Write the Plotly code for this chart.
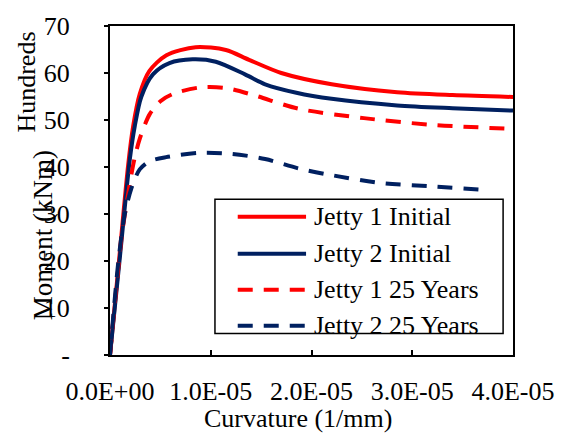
import plotly.graph_objects as go

# Curvature (1/mm) and moment (hundreds of kNm)
j1_init_x = [0, 0.9e-6, 1.8e-6, 2.3e-6, 2.95e-6, 3.9e-6, 5.6e-6, 8.5e-6, 11.5e-6, 13.8e-6, 17.0e-6, 22.0e-6, 28.5e-6, 34.0e-6, 40.0e-6]
j1_init_y = [0, 20.2, 40.4, 48.7, 55.5, 60.4, 63.8, 65.5, 64.9, 62.8, 60.0, 57.6, 55.9, 55.3, 54.9]

j2_init_x = [0, 1.0e-6, 1.97e-6, 2.46e-6, 3.1e-6, 4.26e-6, 5.9e-6, 8.2e-6, 10.5e-6, 13.4e-6, 15.4e-6, 18.5e-6, 22.0e-6, 28.5e-6, 34.0e-6, 40.0e-6]
j2_init_y = [0, 21.2, 41.7, 48.7, 54.9, 59.7, 62.1, 62.9, 62.4, 59.7, 57.6, 55.8, 54.5, 53.1, 52.5, 52.0]

j1_25_x = [0, 1.15e-6, 1.97e-6, 2.4e-6, 2.95e-6, 3.93e-6, 5.0e-6, 6.2e-6, 8.85e-6, 11.5e-6, 14.4e-6, 18.7e-6, 25.2e-6, 31.8e-6, 40.0e-6]
j1_25_y = [0, 25.0, 36.5, 41.5, 46.0, 51.2, 54.0, 55.5, 56.9, 56.8, 55.2, 52.4, 50.4, 49.0, 48.1]

j2_25_x = [0, 0.82e-6, 1.47e-6, 2.13e-6, 2.95e-6, 3.9e-6, 5.57e-6, 8.85e-6, 12.1e-6, 15.4e-6, 18.7e-6, 21.9e-6, 26.9e-6, 31.8e-6, 36.7e-6]
j2_25_y = [0, 19.7, 30.0, 35.5, 39.5, 41.2, 42.1, 43.0, 42.8, 41.7, 39.7, 38.3, 36.6, 35.9, 35.2]

x_tickvals = [0, 1e-5, 2e-5, 3e-5, 4e-5]
x_ticktext = ["0.0E+00", "1.0E-05", "2.0E-05", "3.0E-05", "4.0E-05"]
y_tickvals = [0, 10, 20, 30, 40, 50, 60, 70]
y_ticktext = ["-", "10", "20", "30", "40", "50", "60", "70"]

RED = "#FF0000"
NAVY = "#002060"
FONT = "Liberation Serif"
DASH = "15px,11px"

series = [
    ("Jetty 1 Initial", j1_init_x, j1_init_y, RED, "solid"),
    ("Jetty 2 Initial", j2_init_x, j2_init_y, NAVY, "solid"),
    ("Jetty 1 25 Years", j1_25_x, j1_25_y, RED, DASH),
    ("Jetty 2 25 Years", j2_25_x, j2_25_y, NAVY, DASH),
]

W, H = 567, 434
ML, MR, MT, MB = 110, 50, 17, 79
PW, PH = W - ML - MR, H - MT - MB


def px(x):
    return (x - ML) / PW


def py(y):
    return (H - MB - y) / PH


fig = go.Figure()
for name, xs, ys, col, dash in series:
    fig.add_trace(go.Scatter(x=xs, y=ys, name=name, mode="lines", showlegend=False,
                             line=dict(color=col, width=4, dash=dash, shape="spline", smoothing=0.8)))

# Legend drawn as a boxed key (Excel style)
shapes = [dict(type="rect", xref="paper", yref="paper", x0=px(216), x1=px(507), y0=py(333), y1=py(195),
               line=dict(color="black", width=1.5), fillcolor="white", layer="above")]
annotations = []
row_y = [213, 251, 288, 325]
for (name, xs, ys, col, dash), ry in zip(series, row_y):
    shapes.append(dict(type="line", xref="paper", yref="paper", x0=px(239), x1=px(308), y0=py(ry), y1=py(ry),
                       line=dict(color=col, width=4, dash=dash), layer="above"))
    annotations.append(dict(text=name, xref="paper", yref="paper", x=px(314), y=py(ry), xanchor="left",
                            yanchor="middle", showarrow=False, font=dict(family=FONT, size=26, color="black")))

annotations += [
    dict(text="Curvature (1/mm)", xref="paper", yref="paper", x=0.467, y=0,
         yshift=-63, xanchor="center", yanchor="middle", showarrow=False,
         font=dict(family=FONT, size=26)),
    dict(text="Moment (kNm)", xref="paper", yref="paper", x=0, y=0.364,
         xshift=-67, xanchor="center", yanchor="middle", textangle=-90, showarrow=False,
         font=dict(family=FONT, size=27)),
    dict(text="Hundreds", xref="paper", yref="paper", x=0, y=0.828,
         xshift=-83, xanchor="center", yanchor="middle", textangle=-90, showarrow=False,
         font=dict(family=FONT, size=26)),
]

fig.update_layout(
    width=W, height=H,
    margin=dict(l=ML, r=MR, t=MT, b=MB),
    paper_bgcolor="white", plot_bgcolor="white",
    font=dict(family=FONT, size=26, color="black"),
    showlegend=False,
    xaxis=dict(range=[0, 4e-5], tickvals=x_tickvals, ticktext=x_ticktext,
               showline=True, linecolor="black", linewidth=2, mirror=True,
               ticks="inside", ticklen=5, tickwidth=1.5, tickcolor="black",
               showgrid=False, zeroline=False, ticklabelstandoff=12),
    yaxis=dict(range=[0, 70], tickvals=y_tickvals, ticktext=y_ticktext,
               showline=True, linecolor="black", linewidth=2, mirror=True,
               ticks="outside", ticklen=4, tickwidth=1.5, tickcolor="black",
               showgrid=False, zeroline=False, ticklabelstandoff=29),
    shapes=shapes,
    annotations=annotations,
)

fig.write_html("out.html")
